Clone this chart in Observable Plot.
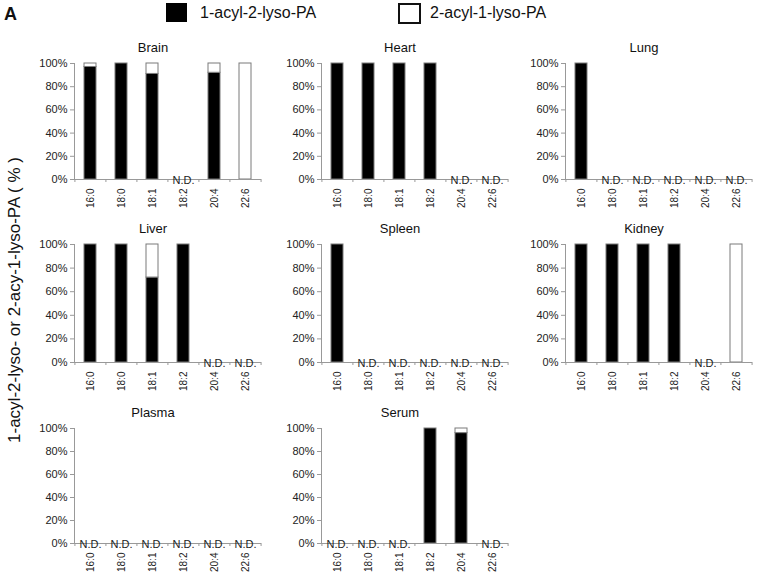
<!DOCTYPE html>
<html>
<head>
<meta charset="utf-8">
<script src="https://cdn.jsdelivr.net/npm/d3@7"></script>
<script src="https://cdn.jsdelivr.net/npm/@observablehq/plot@0.6"></script>
<style>
  body { margin: 0; background: #fff; font-family: "Liberation Sans", Arial, sans-serif; }
  #root { position: relative; width: 757px; height: 577px; overflow: hidden; background: #fff; }
  .panel { position: absolute; }
  .panel svg { overflow: visible; }
</style>
</head>
<body>
<div id="root"></div>
<script>
const categories = ["16:0", "18:0", "18:1", "18:2", "20:4", "22:6"];
const tissues = ["Brain", "Heart", "Lung", "Liver", "Spleen", "Kidney", "Plasma", "Serum"];
const legendLabels = ["1-acyl-2-lyso-PA", "2-acyl-1-lyso-PA"];
const yTicks = [0, 20, 40, 60, 80, 100];

// null = N.D.
const brain1  = [97, 100, 91, null, 92, 0];
const brain2  = [3, 0, 9, null, 8, 100];
const heart1  = [100, 100, 100, 100, null, null];
const heart2  = [0, 0, 0, 0, null, null];
const lung1   = [100, null, null, null, null, null];
const lung2   = [0, null, null, null, null, null];
const liver1  = [100, 100, 72, 100, null, null];
const liver2  = [0, 0, 28, 0, null, null];
const spleen1 = [100, null, null, null, null, null];
const spleen2 = [0, null, null, null, null, null];
const kidney1 = [100, 100, 100, 100, null, 0];
const kidney2 = [0, 0, 0, 0, null, 100];
const plasma1 = [null, null, null, null, null, null];
const plasma2 = [null, null, null, null, null, null];
const serum1  = [null, null, null, 100, 96, null];
const serum2  = [null, null, null, 0, 4, null];

const series = {
  Brain: [brain1, brain2], Heart: [heart1, heart2], Lung: [lung1, lung2],
  Liver: [liver1, liver2], Spleen: [spleen1, spleen2], Kidney: [kidney1, kidney2],
  Plasma: [plasma1, plasma2], Serum: [serum1, serum2]
};

const root = document.getElementById("root");
const font = '"Liberation Sans", Arial, sans-serif';

// layout
const mL = 45, mR = 5, mT = 30, mB = 34, innerW = 187;
const colLeft = [29, 276, 520];
const rowTop = [33, 214, 398];
const rowH = [116, 118, 115];
const step = innerW / categories.length;

tissues.forEach((name, idx) => {
  const row = Math.floor(idx / 3), col = idx % 3;
  const [a1, a2] = series[name];
  const data = [];
  categories.forEach((c, i) => {
    if (a1[i] == null) return;
    data.push({cat: c, type: legendLabels[0], v: a1[i]});
    data.push({cat: c, type: legendLabels[1], v: a2[i]});
  });
  const bars = data.filter(d => d.v > 0);
  const nd = categories.filter((c, i) => a1[i] == null);

  const chart = Plot.plot({
    width: mL + innerW + mR,
    height: mT + rowH[row] + mB,
    marginLeft: mL, marginRight: mR, marginTop: mT, marginBottom: mB,
    style: {fontFamily: font, fontSize: "11px", color: "#222", background: "transparent", overflow: "visible"},
    x: {domain: categories, paddingInner: 0.6, paddingOuter: 0.3, axis: null, label: null},
    y: {domain: [0, 100], axis: null, label: null},
    color: {domain: legendLabels, range: ["#000", "#fff"]},
    marks: [
      Plot.barY(bars, {x: "cat", y: "v", fill: "type", stroke: "#7a7a7a", strokeWidth: 1}),
      Plot.ruleY([0], {stroke: "#999"}),
      Plot.frame({anchor: "left", stroke: "#999"}),
      Plot.axisY(yTicks, {tickSize: 4, tickPadding: 3, tickFormat: d => d + "%", stroke: "#999", fill: "#222", fontSize: 11, label: null}),
      Plot.axisX({tickSize: 3, tickFormat: () => "", dx: -step / 2, stroke: "#999", label: null}),
      Plot.axisX([categories[categories.length - 1]], {tickSize: 3, tickFormat: () => "", dx: step / 2, stroke: "#999", label: null}),
      Plot.axisX({tickSize: 0, tickPadding: 9, tickRotate: -90, fontSize: 10, fill: "#222", label: null}),
      Plot.text(nd, {x: d => d, y: 0, text: () => "N.D.", fontSize: 11, fill: "#222", dy: 1}),
      Plot.text([name], {frameAnchor: "top", dy: -21, dx: -15, fontSize: 13, fill: "#111"})
    ]
  });
  const wrap = document.createElement("div");
  wrap.className = "panel";
  wrap.style.left = colLeft[col] + "px";
  wrap.style.top = rowTop[row] + "px";
  wrap.appendChild(chart);
  root.appendChild(wrap);
});

// panel letter
const letter = document.createElement("div");
letter.textContent = "A";
Object.assign(letter.style, {position: "absolute", left: "4px", top: "4px", fontFamily: '"Liberation Sans Narrow", "Liberation Sans", Arial, sans-serif', fontWeight: "bold", fontSize: "18px", color: "#111"});
root.appendChild(letter);

// legend
const legendPos = [{box: 166, text: 200}, {box: 398, text: 430}];
legendLabels.forEach((lab, i) => {
  const box = document.createElement("div");
  Object.assign(box.style, {position: "absolute", left: legendPos[i].box + "px", top: "3px", width: (i === 0 ? 21 : 19) + "px", height: (i === 0 ? 19 : 17) + "px",
    background: i === 0 ? "#000" : "#fff", border: i === 0 ? "none" : "2px solid #111"});
  root.appendChild(box);
  const t = document.createElement("div");
  t.textContent = lab;
  Object.assign(t.style, {position: "absolute", left: legendPos[i].text + "px", top: "4px", fontFamily: font, fontSize: "16px", color: "#111", whiteSpace: "nowrap"});
  root.appendChild(t);
});

// y-axis title
const yt = document.createElement("div");
yt.textContent = "1-acyl-2-lyso- or 2-acy-1-lyso-PA ( % )";
Object.assign(yt.style, {position: "absolute", left: "15px", top: "300px", transform: "translate(-50%, -50%) rotate(-90deg)", fontFamily: font, fontSize: "17px", color: "#111", whiteSpace: "nowrap"});
root.appendChild(yt);
</script>
</body>
</html>
